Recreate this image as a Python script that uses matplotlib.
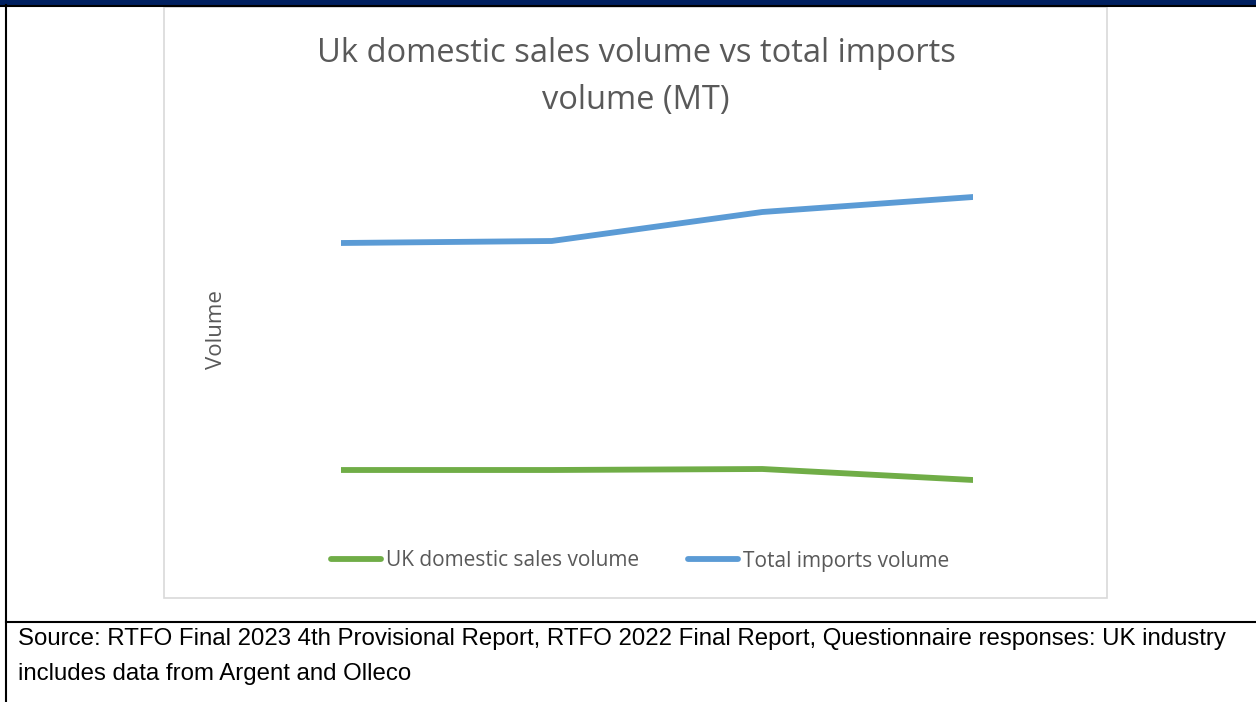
import matplotlib.pyplot as plt
import matplotlib.patches as patches
from matplotlib.lines import Line2D

W, H = 1256, 702

years = ['2020', '2021', '2022', '2023']
domestic_sales = [250, 250, 255, 200]
total_imports = [1385, 1395, 1540, 1615]

title_lines = ['Uk domestic sales volume vs total imports', 'volume (MT)']
source_lines = ['Source: RTFO Final 2023 4th Provisional Report, RTFO 2022 Final Report, '
                'Questionnaire responses: UK industry',
                'includes data from Argent and Olleco']

grey_text = '#595959'
green = '#70AD47'
blue = '#5B9BD5'

fig = plt.figure(figsize=(W / 100, H / 100), dpi=100)


def fy(y):
    # pixel row from the top -> figure fraction
    return 1 - y / H


def px_box(x0, y0, x1, y1):
    return [x0 / W, fy(y1), (x1 - x0) / W, (y1 - y0) / H]


# table frame around the chart
fig.patches.append(patches.Rectangle((0, fy(5)), 1, 5 / H, transform=fig.transFigure,
                                     facecolor='#002060', edgecolor='none', zorder=-2))
fig.add_artist(Line2D([0, 1], [fy(5.5)] * 2, transform=fig.transFigure, color='black', lw=1.5))
fig.add_artist(Line2D([6 / W] * 2, [0, fy(5)], transform=fig.transFigure, color='black', lw=1.5))
fig.add_artist(Line2D([6 / W, 1], [fy(622)] * 2, transform=fig.transFigure, color='black', lw=1.5))

# chart area border
fig.patches.append(patches.Rectangle((164 / W, fy(598)), (1107 - 164) / W, (598 - 7) / H,
                                     transform=fig.transFigure, facecolor='white',
                                     edgecolor='#D9D9D9', lw=1.2, zorder=-1))

ax = fig.add_axes(px_box(341, 150, 973, 520))
x = range(len(years))
ax.plot(x, domestic_sales, color=green, lw=4.2, solid_capstyle='round',
        solid_joinstyle='round', label='UK domestic sales volume')
ax.plot(x, total_imports, color=blue, lw=4.2, solid_capstyle='round',
        solid_joinstyle='round', label='Total imports volume')
ax.set_xlim(0, len(years) - 1)
ax.set_ylim(0, 1850)
ax.axis('off')

for line, y in zip(title_lines, [53, 100]):
    fig.text(636 / W, fy(y), line, ha='center', va='center', fontsize=23.5,
             family='Open Sans', color=grey_text)
fig.text(216 / W, fy(330), 'Volume', rotation=90, ha='center', va='center',
         fontsize=16, family='Open Sans', color=grey_text)

handles, labels = ax.get_legend_handles_labels()
fig.legend(handles, labels, loc='center', bbox_to_anchor=(640 / W, fy(561)), ncol=2,
           frameon=False, prop={'family': 'Open Sans', 'size': 15}, labelcolor=grey_text,
           handlelength=2.4, handletextpad=0.25, columnspacing=2.35)

for line, y in zip(source_lines, [645, 680]):
    fig.text(18 / W, fy(y), line, ha='left', va='baseline', fontsize=17.3,
             family='Liberation Sans', color='black')

fig.savefig('out.png', dpi=100)
